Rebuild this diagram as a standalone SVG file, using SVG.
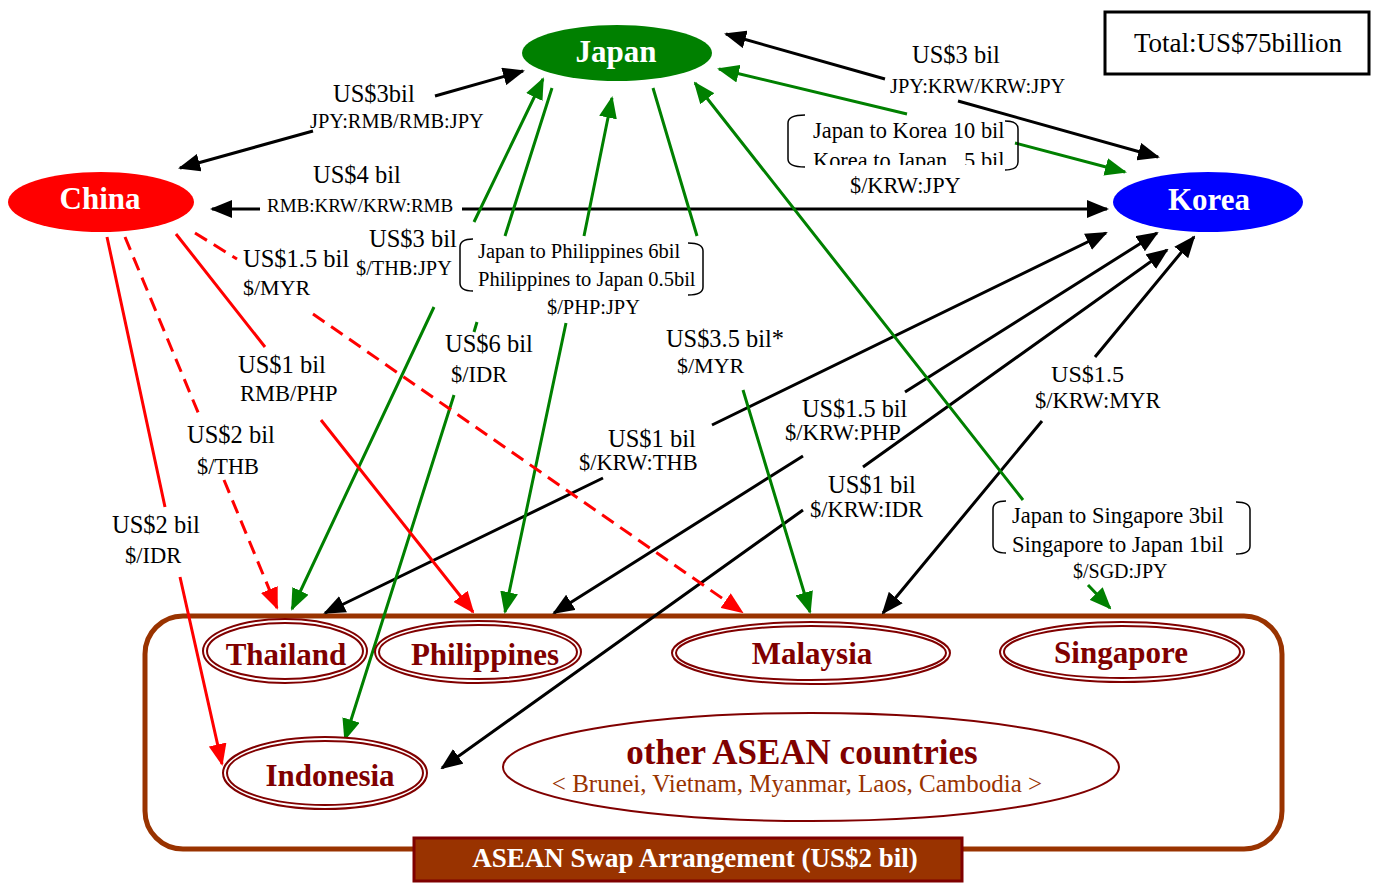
<svg xmlns="http://www.w3.org/2000/svg" width="1378" height="884" viewBox="0 0 1378 884">
<style>
text{font-family:"Liberation Serif","Times New Roman",serif}
.lb{fill:#000}
.nd{font-weight:bold;fill:#fff;text-anchor:middle}
.ct{font-weight:bold;fill:#800000;text-anchor:middle;font-size:31px}
.k{fill:none;stroke:#000;stroke-width:3}
.g{fill:none;stroke:#008000;stroke-width:3}
.r{fill:none;stroke:#ff0000;stroke-width:3}
.d{stroke-dasharray:14 8}
.br{fill:none;stroke:#000;stroke-width:1.5}
.dbl{fill:#fff;stroke:#800000;stroke-width:2}
.dbi{fill:none;stroke:#800000;stroke-width:2}
.ka{marker-start:url(#ak);marker-end:url(#ak)}
.kb{marker-end:url(#ak)}
.ga{marker-start:url(#ag);marker-end:url(#ag)}
.gb{marker-end:url(#ag)}
.rb{marker-end:url(#ar)}
</style>
<defs>
<marker id="ak" markerUnits="userSpaceOnUse" markerWidth="22" markerHeight="18" refX="20" refY="9" orient="auto-start-reverse"><path d="M0,0 L22,9 L0,18 z" fill="#000"/></marker>
<marker id="ag" markerUnits="userSpaceOnUse" markerWidth="22" markerHeight="18" refX="20" refY="9" orient="auto-start-reverse"><path d="M0,0 L22,9 L0,18 z" fill="#008000"/></marker>
<marker id="ar" markerUnits="userSpaceOnUse" markerWidth="22" markerHeight="18" refX="20" refY="9" orient="auto-start-reverse"><path d="M0,0 L22,9 L0,18 z" fill="#ff0000"/></marker>
<clipPath id="clipK"><rect x="780" y="100" width="260" height="65"/></clipPath>
</defs>
<rect width="1378" height="884" fill="#fff"/>

<g id="asean-group">
<rect x="145" y="616" width="1137" height="233" rx="38" fill="#fff" stroke="#993300" stroke-width="5"/>
</g>

<g id="connectors">
<path class="k ka" d="M180,168 L313,131 M435,96 L523,71"/>
<path class="k ka" d="M726,34 L885,79 M958,101 L1158,157"/>
<path class="k ka" d="M212,209 L260,209 M462,209 L1107,209"/>
<path class="k ka" d="M1106,233 L712,425 M603,478 L325,613"/>
<path class="k ka" d="M1157,233 L905,392 M803,456 L554,613"/>
<path class="k ka" d="M1167,250 L863,467 M803,510 L442,768"/>
<path class="k ka" d="M1194,237 L1095,357 M1042,421 L883,613"/>
<path class="g ga" d="M543,79 L474,222 M434,307 L292,609"/>
<path class="g gb" d="M552,88 L505,236 M477,322 L474,332 M454,395 L345,739"/>
<path class="g ga" d="M612,98 L584,236 M566,323 L505,612"/>
<path class="g gb" d="M653,88 L697,236 M743,390 L810,612"/>
<path class="g ga" d="M695,83 L1023,500 M1088,585 L1110,608"/>
<path class="g ga" d="M719,69 L907,114 M1015,143 L1125,172"/>
<path class="r rb" d="M107,237 L165,507 M180,577 L222,764"/>
<path class="r d rb" d="M125,237 L200,417 M224,480 L277,608"/>
<path class="r rb" d="M176,234 L265,347 M321,420 L473,612"/>
<path class="r d rb" d="M195,233 L237,259 M313,314 L742,612"/>
</g>

<g id="edge-labels" class="lb">
<text x="333" y="102" font-size="24.5">US$3bil</text>
<text x="310" y="128" font-size="20.4">JPY:RMB/RMB:JPY</text>
<text x="313" y="183" font-size="24.5">US$4 bil</text>
<text x="267" y="212" font-size="19">RMB:KRW/KRW:RMB</text>
<text x="369" y="247" font-size="24.5">US$3 bil</text>
<text x="356" y="275" font-size="20.3">$/THB:JPY</text>
<text x="243" y="267" font-size="24.5">US$1.5 bil</text>
<text x="243" y="295" font-size="22">$/MYR</text>
<text x="238" y="373" font-size="24.5">US$1 bil</text>
<text x="240" y="401" font-size="22.5">RMB/PHP</text>
<text x="187" y="443" font-size="24.5">US$2 bil</text>
<text x="197" y="474" font-size="22.3">$/THB</text>
<text x="112" y="533" font-size="24.5">US$2 bil</text>
<text x="125" y="563" font-size="22.5">$/IDR</text>
<text x="445" y="352" font-size="24.5">US$6 bil</text>
<text x="451" y="382" font-size="22.5">$/IDR</text>
<text x="478" y="258" font-size="20.5">Japan to Philippines 6bil</text>
<text x="478" y="286" font-size="20.5">Philippines to Japan 0.5bil</text>
<text x="547" y="314" font-size="20.4">$/PHP:JPY</text>
<text x="666" y="347" font-size="24.4">US$3.5 bil*</text>
<text x="677" y="373" font-size="22">$/MYR</text>
<text x="608" y="447" font-size="24.5">US$1 bil</text>
<text x="579" y="470" font-size="22.4">$/KRW:THB</text>
<text x="802" y="417" font-size="24.3">US$1.5 bil</text>
<text x="785" y="440" font-size="22.6">$/KRW:PHP</text>
<text x="828" y="493" font-size="24.5">US$1 bil</text>
<text x="810" y="517" font-size="22.5">$/KRW:IDR</text>
<text x="1051" y="382" font-size="24.1">US$1.5</text>
<text x="1035" y="408" font-size="22.5">$/KRW:MYR</text>
<text x="1012" y="523" font-size="22.5">Japan to Singapore 3bil</text>
<text x="1012" y="552" font-size="22.5">Singapore to Japan 1bil</text>
<text x="1073" y="578" font-size="20">$/SGD:JPY</text>
<text x="912" y="63" font-size="24.5">US$3 bil</text>
<text x="890" y="93" font-size="20.4">JPY:KRW/KRW:JPY</text>
<text x="813" y="138" font-size="22.4">Japan to Korea 10 bil</text>
<text x="813" y="168" font-size="22.4" clip-path="url(#clipK)" xml:space="preserve" style="white-space:pre">Korea to Japan   5 bil</text>
<text x="850" y="193" font-size="22.3">$/KRW:JPY</text>
<path class="br" d="M473,239 Q460,239 460,247 L460,283 Q460,291 473,291 M688,243 Q703,243 703,251 L703,287 Q703,295 688,295"/>
<path class="br" d="M805,115 Q788,115 788,123 L788,159 Q788,167 805,167 M1005,121 Q1018,121 1018,129 L1018,162 Q1018,170 1005,170"/>
<path class="br" d="M1006,501 Q993,501 993,509 L993,545 Q993,553 1006,553 M1236,502 Q1250,502 1250,510 L1250,546 Q1250,554 1236,554"/>
</g>

<g id="china">
<ellipse cx="101" cy="202" rx="93" ry="30" fill="#ff0000"/>
<text class="nd" x="100" y="209" font-size="31">China</text>
</g>
<g id="japan">
<ellipse cx="617" cy="53" rx="95" ry="28" fill="#008000"/>
<text class="nd" x="616" y="62" font-size="31">Japan</text>
</g>
<g id="korea">
<ellipse cx="1208" cy="202" rx="95" ry="30" fill="#0000ff"/>
<text class="nd" x="1209" y="210" font-size="31">Korea</text>
</g>

<g id="thailand">
<ellipse class="dbl" cx="285" cy="651" rx="82" ry="32"/>
<ellipse class="dbi" cx="285" cy="651" rx="78" ry="28"/>
<text class="ct" x="286" y="665">Thailand</text>
</g>
<g id="philippines">
<ellipse class="dbl" cx="478" cy="652" rx="103" ry="31"/>
<ellipse class="dbi" cx="478" cy="652" rx="99" ry="27"/>
<text class="ct" x="485" y="665">Philippines</text>
</g>
<g id="malaysia">
<ellipse class="dbl" cx="811" cy="653" rx="139" ry="31"/>
<ellipse class="dbi" cx="811" cy="653" rx="135" ry="27"/>
<text class="ct" x="812" y="664">Malaysia</text>
</g>
<g id="singapore">
<ellipse class="dbl" cx="1122" cy="652" rx="122" ry="30"/>
<ellipse class="dbi" cx="1122" cy="652" rx="118" ry="26"/>
<text class="ct" x="1121" y="663">Singapore</text>
</g>
<g id="indonesia">
<ellipse class="dbl" cx="325" cy="773" rx="102" ry="36"/>
<ellipse class="dbi" cx="325" cy="773" rx="98" ry="32"/>
<text class="ct" x="330" y="786">Indonesia</text>
</g>
<g id="other-asean">
<ellipse cx="811" cy="767" rx="308" ry="54" fill="#fff" stroke="#800000" stroke-width="2"/>
<text x="802" y="764" font-size="35" font-weight="bold" fill="#800000" text-anchor="middle">other ASEAN countries</text>
<text x="797" y="792" font-size="25" fill="#993300" text-anchor="middle">&lt; Brunei, Vietnam, Myanmar, Laos, Cambodia &gt;</text>
</g>

<g id="asean-swap">
<rect x="414" y="838" width="548" height="43" fill="#993300" stroke="#7f0000" stroke-width="3"/>
<text x="695" y="867" font-size="27" font-weight="bold" fill="#fff" text-anchor="middle">ASEAN Swap Arrangement (US$2 bil)</text>
</g>

<g id="total">
<rect x="1105" y="12" width="264" height="62" fill="#fff" stroke="#000" stroke-width="3"/>
<text x="1238" y="52" font-size="27" text-anchor="middle">Total:US$75billion</text>
</g>
</svg>
